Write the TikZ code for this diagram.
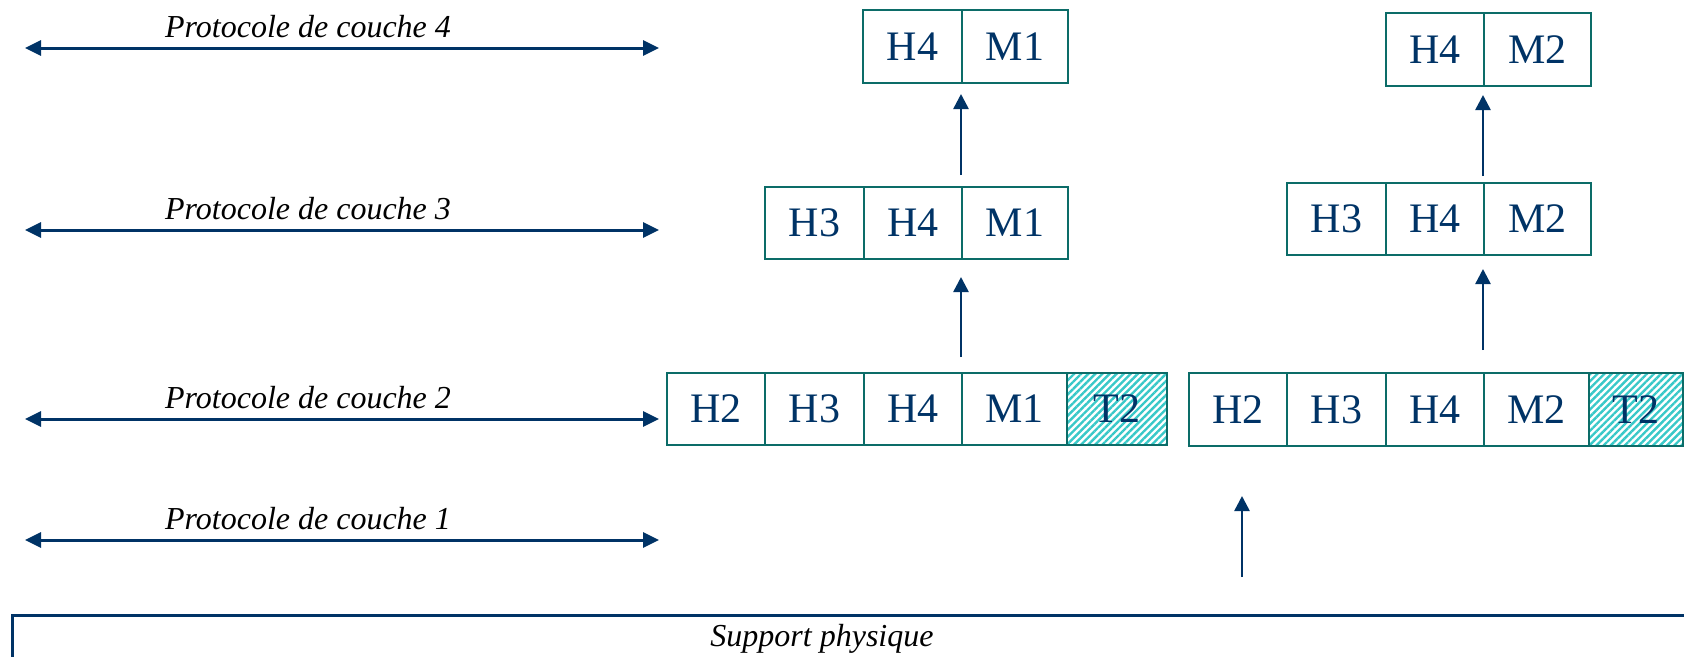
\documentclass[tikz,border=0pt]{standalone}
\usepackage{fontspec}
\setmainfont{Liberation Serif}
\usetikzlibrary{arrows.meta,patterns.meta}

\definecolor{boxline}{RGB}{12,108,104}
\definecolor{navy}{RGB}{0,51,102}
\definecolor{hatch}{RGB}{56,200,200}

\tikzset{
  cell/.style={draw=boxline, line width=2pt, inner sep=0pt, text=navy,
    font=\fontsize{42}{42}\selectfont},
  trailer/.style={cell, pattern={Lines[angle=45,distance=5pt,line width=2.4pt]},
    pattern color=hatch},
  layerlabel/.style={anchor=base, inner sep=0pt, font=\fontsize{32}{32}\selectfont\itshape},
  peerarrow/.style={draw=navy, line width=3pt, {Triangle[length=16pt,width=15pt]}-{Triangle[length=16pt,width=15pt]}},
  uparrow/.style={draw=navy, line width=2.5pt, -{Triangle[length=15pt,width=15pt]}}
}

% cell: name, left x, right x, top y, bottom y, text
\newcommand{\pdu}[7][cell]{%
  \node[#1, minimum width={#4-#3}, minimum height={#6-#5}] (#2)
    at ({(#3+#4)/2},{(#5+#6)/2}) {#7};}

\begin{document}
\begin{tikzpicture}[x=1pt,y=-1pt]
\useasboundingbox (0,0) rectangle (1684,656);
\clip (0,0) rectangle (1684,656);

% peer protocol arrows with their labels
\foreach \n/\y in {4/48,3/230,2/419,1/540}{
  \coordinate (pl\n) at (25,\y);
  \coordinate (pr\n) at (659,\y);
  \draw[peerarrow] (pl\n) -- (pr\n);
  \node[layerlabel] (lab\n) at (308,\y-11) {Protocole de couche \n};
}

% left frame, layer 2
\pdu{lbH2}{667}{765}{373}{445}{H2}
\pdu{lbH3}{765}{864}{373}{445}{H3}
\pdu{lbH4}{864}{962}{373}{445}{H4}
\pdu{lbM1}{962}{1067}{373}{445}{M1}
\pdu[trailer]{lbT2}{1067}{1167}{373}{445}{T2}
% left packet, layer 3
\pdu{lcH3}{765}{864}{187}{259}{H3}
\pdu{lcH4}{864}{962}{187}{259}{H4}
\pdu{lcM1}{962}{1068}{187}{259}{M1}
% left segment, layer 4
\pdu{ldH4}{863}{962}{10}{83}{H4}
\pdu{ldM1}{962}{1068}{10}{83}{M1}

% right frame, layer 2
\pdu{rbH2}{1189}{1287}{373}{446}{H2}
\pdu{rbH3}{1287}{1386}{373}{446}{H3}
\pdu{rbH4}{1386}{1484}{373}{446}{H4}
\pdu{rbM2}{1484}{1589}{373}{446}{M2}
\pdu[trailer]{rbT2}{1589}{1683}{373}{446}{T2}
% right packet, layer 3
\pdu{rcH3}{1287}{1386}{183}{255}{H3}
\pdu{rcH4}{1386}{1484}{183}{255}{H4}
\pdu{rcM2}{1484}{1591}{183}{255}{M2}
% right segment, layer 4
\pdu{rdH4}{1386}{1484}{13}{86}{H4}
\pdu{rdM2}{1484}{1591}{13}{86}{M2}

% physical medium
\node[draw=navy, line width=2.5pt, anchor=north west, minimum width=1720,
  minimum height=90, inner sep=0pt] (support) at (11,614) {};
\node[layerlabel] (supportlab) at (822,646) {Support physique};

% decapsulation arrows
\draw[uparrow, shorten <=15pt, shorten >=17pt] (lbM1.north west) -- (lcM1.south west);
\draw[uparrow, shorten <=11pt, shorten >=10pt] (lcM1.north west) -- (ldM1.south west);
\draw[uparrow, shorten <=22pt, shorten >=13pt] (rbM2.north west) -- (rcM2.south west);
\draw[uparrow, shorten <=6pt, shorten >=8pt] (rcM2.north west) -- (rdM2.south west);
\draw[uparrow, shorten <=37pt, shorten >=49pt]
  ([xshift=4pt]rbH2.south |- support.north) -- ([xshift=4pt]rbH2.south);
\end{tikzpicture}
\end{document}
